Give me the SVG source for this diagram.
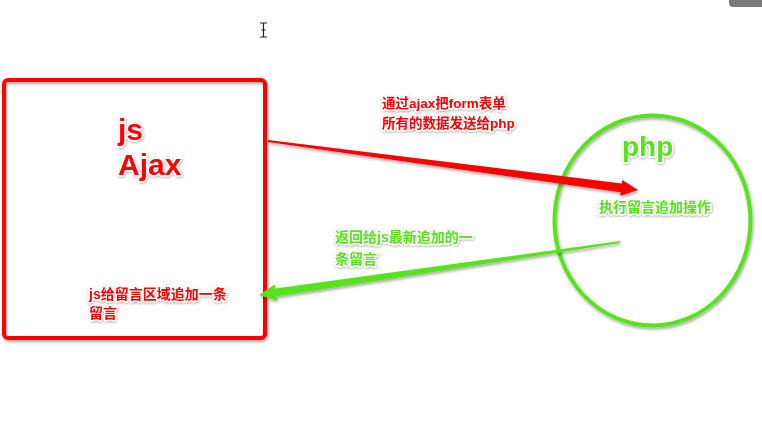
<svg xmlns="http://www.w3.org/2000/svg" width="762" height="434" viewBox="0 0 762 434">
<defs>
<filter id="sh" x="-10%" y="-10%" width="130%" height="130%">
<feDropShadow dx="1" dy="2" stdDeviation="1.5" flood-color="#000" flood-opacity="0.35"/>
</filter>
<filter id="tsh" x="-10%" y="-30%" width="130%" height="160%">
<feDropShadow dx="0.5" dy="1" stdDeviation="1" flood-color="#000" flood-opacity="0.35"/>
</filter>
</defs>
<style>
.lbl{font-family:"Liberation Sans","Noto Sans CJK SC",sans-serif;font-weight:bold;paint-order:stroke;stroke:#fff;stroke-width:3;stroke-linejoin:round;filter:url(#tsh)}
.red{fill:#ff0000}
.grn{fill:#58e21c}
.big{font-size:30px}
.mid{font-size:28px}
.sm{font-size:14px}
.sm13{font-size:13.5px}
</style>
<rect width="762" height="434" fill="#ffffff"/>
<path d="M729 0 H762 V7 H733 Q729 7 729 3 Z" fill="#7a7a7a"/>
<g id="cursor" stroke="#222" stroke-width="1.2" fill="none">
<path d="M260 23 H267 M263.5 23 V37 M260 37 H267 M261.5 30 H265.5"/>
</g>
<g id="js-node">
<rect x="4" y="80" width="261" height="258" rx="4" fill="none" stroke="#ff0000" stroke-width="4" filter="url(#sh)"/>
<text class="lbl red big" x="118" y="140">js</text>
<text class="lbl red big" x="118" y="175">Ajax</text>
<text class="lbl red sm" x="89" y="299">js给留言区域追加一条</text>
<text class="lbl red sm" x="89" y="318">留言</text>
</g>
<g id="php-node">
<ellipse cx="652.5" cy="220.5" rx="98" ry="105" fill="none" stroke="#58e21c" stroke-width="4" filter="url(#sh)"/>
<text class="lbl grn mid" x="622" y="156">php</text>
<text class="lbl grn sm" x="599" y="212">执行留言追加操作</text>
</g>
<g id="connectors">
<polygon points="268.13,140 621.79,183.4 622.25,179.9 638,190 620.15,195.7 620.61,192.2 267.87,142" fill="#ff0000" filter="url(#sh)"/>
<polygon points="619.85,241.01 275.24,288.6 274.66,284.62 259,295 276.98,300.44 276.40,296.46 620.15,242.99" fill="#58e21c" filter="url(#sh)"/>
<text class="lbl red sm13" x="382" y="108">通过ajax把form表单</text>
<text class="lbl red sm13" x="382" y="128">所有的数据发送给php</text>
<text class="lbl grn sm" x="335" y="242">返回给js最新追加的一</text>
<text class="lbl grn sm" x="335" y="264">条留言</text>
</g>
</svg>
